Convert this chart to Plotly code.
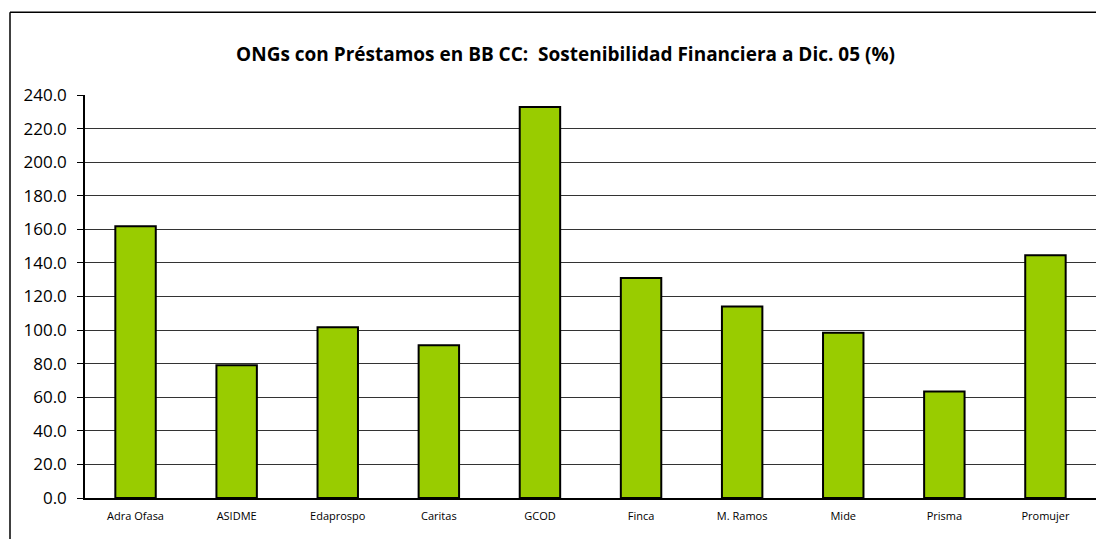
import plotly.graph_objects as go

categories = ["Adra Ofasa", "ASIDME", "Edaprospo", "Caritas", "GCOD",
              "Finca", "M. Ramos", "Mide", "Prisma", "Promujer"]
values = [161.8, 79.0, 101.7, 91.0, 232.9, 131.0, 114.0, 98.4, 63.4, 144.6]
y_ticks = [0, 20, 40, 60, 80, 100, 120, 140, 160, 180, 200, 220, 240]
title_text = "ONGs con Préstamos en BB CC:  Sostenibilidad Financiera a Dic. 05 (%)"

FONT = "Open Sans"

fig = go.Figure()
fig.add_trace(go.Bar(
    x=categories, y=values,
    marker=dict(color="#99CC00", line=dict(color="#000000", width=2)),
))

bx0 = (10 - 85) / 1011
by1 = (497.7 - 12) / 403
border = dict(color="#000000", width=1.5)

fig.update_layout(
    width=1096, height=539,
    margin=dict(l=85, r=0, t=95, b=41),
    paper_bgcolor="white", plot_bgcolor="white",
    bargap=0.6,
    showlegend=False,
    font=dict(family=FONT, color="#000000"),
    title=dict(text="<b>" + title_text + "</b>", x=0.516, xanchor="center",
               xref="container", y=1 - 54 / 539, yref="container", yanchor="middle",
               font=dict(family=FONT, size=19, color="#000000")),
    shapes=[
        dict(type="line", xref="paper", yref="paper", x0=bx0, x1=1.1, y0=by1, y1=by1,
             line=border, layer="below"),
        dict(type="line", xref="paper", yref="paper", x0=bx0, x1=bx0, y0=-0.2, y1=by1,
             line=border, layer="below"),
    ],
)

fig.update_xaxes(
    showline=True, linecolor="#000000", linewidth=1.5,
    ticks="", tickfont=dict(family=FONT, size=11, color="#000000"),
    ticklabelstandoff=7,
    showgrid=False,
)
fig.update_yaxes(
    range=[0, 240], tickvals=y_ticks, tickformat=".1f",
    showline=True, linecolor="#000000", linewidth=1.5,
    ticks="outside", ticklen=6, tickcolor="#000000",
    tickfont=dict(family=FONT, size=17, color="#000000"),
    ticklabelstandoff=7,
    showgrid=True, gridcolor="#333333", gridwidth=1,
    zeroline=False,
)

fig.write_html("out.html",
               config={"displayModeBar": False},
               post_script="document.body.style.margin='0';document.body.style.overflow='hidden';")
